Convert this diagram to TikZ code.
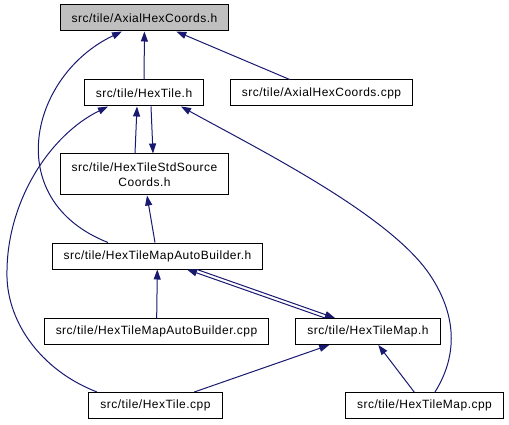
\documentclass[tikz,border=0pt]{standalone}
\usepackage{fontspec}
\setmainfont{Liberation Sans}[LetterSpace=4]
\usetikzlibrary{arrows.meta}
\definecolor{DoxEdge}{HTML}{191970}
\definecolor{DoxGray}{HTML}{BFBFBF}

\begin{document}
\begin{tikzpicture}[x=1pt,y=-1pt,
  file/.style={draw=black,line width=1pt,fill=white,minimum height=26pt,
    inner xsep=11.5pt,inner ysep=2pt,align=center,
    font=\fontsize{12}{15}\selectfont},
  inc/.style={draw=DoxEdge,line width=1pt,
    -{Triangle[length=10pt,width=7pt,fill=DoxEdge]}}]
  \useasboundingbox (0,0) rectangle (509,425);
  \node[file,fill=DoxGray] (axialh) at (144.5,18) {src/tile/AxialHexCoords.h};
  \node[file] (hextileh) at (144,93) {src/tile/HexTile.h};
  \node[file] (axialcpp) at (321.5,93) {src/tile/AxialHexCoords.cpp};
  \node[file,minimum height=41pt] (stdsrch) at (144.5,174.5) {src/tile/HexTileStdSource\\Coords.h};
  \node[file] (builderh) at (157.5,256) {src/tile/HexTileMapAutoBuilder.h};
  \node[file] (buildercpp) at (156.5,331.5) {src/tile/HexTileMapAutoBuilder.cpp};
  \node[file] (maph) at (368,331.5) {src/tile/HexTileMap.h};
  \node[file] (hextilecpp) at (155.5,405.5) {src/tile/HexTile.cpp};
  \node[file] (mapcpp) at (424.5,405.5) {src/tile/HexTileMap.cpp};

  \draw[inc] (hextileh) -- (axialh);
  \draw[inc] (axialcpp) -- (axialh);
  \draw[inc] ([xshift=-49.5pt]builderh.north) .. controls (0,200) and (30,75) .. ([xshift=-22.5pt]axialh.south);
  \draw[inc] ([xshift=-9.5pt]stdsrch.north) -- ([xshift=-7pt]hextileh.south);
  \draw[inc] ([xshift=7pt]hextileh.south) -- ([xshift=8.5pt]stdsrch.north);
  \draw[inc] ([xshift=-2.5pt]builderh.north) -- ([xshift=2.5pt]stdsrch.south);
  \draw[inc] ([xshift=-58.5pt]hextilecpp.north) .. controls (40,370) and (5,320) .. (7,270)
    .. controls (8,200) and (50,135) .. ([xshift=-36pt]hextileh.south);
  \draw[inc] ([xshift=10.5pt]mapcpp.north) .. controls (455,360) and (460,320) .. (430,275)
    .. controls (390,215) and (260,150) .. ([xshift=37pt]hextileh.south);
  \draw[inc] (buildercpp) -- (builderh);
  \draw[inc] ([xshift=-43pt]maph.north) -- ([xshift=29.5pt]builderh.south);
  \draw[inc] ([xshift=39.5pt]builderh.south) -- ([xshift=-33pt]maph.north);
  \draw[inc] (hextilecpp) -- (maph);
  \draw[inc] (mapcpp) -- (maph);
\end{tikzpicture}
\end{document}
